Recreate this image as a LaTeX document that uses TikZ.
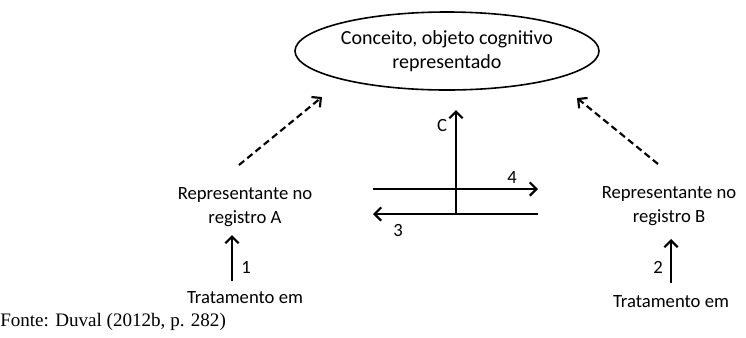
\documentclass[tikz,border=0pt]{standalone}
\usepackage{fontspec}
\setmainfont{Carlito}
\newfontfamily\fontefont{Liberation Serif}
\usetikzlibrary{arrows.meta,shapes.geometric}

\begin{document}
\begin{tikzpicture}[x=0.75pt,y=-0.75pt,
        txt/.style={align=center,inner sep=0pt,font=\fontsize{14}{18.5}\selectfont},
        seta/.style={line width=1.6pt,-{Straight Barb[length=5pt,width=10pt]}},
        tracejada/.style={seta,dash pattern=on 5pt off 3pt}]
        \useasboundingbox (0,0) rectangle (746,337);

        \node[draw,ellipse,line width=1.2pt,minimum width=228pt,minimum height=58.5pt,txt,
              font=\fontsize{15}{18}\selectfont] (conceito) at (447,51)
            {Conceito, objeto cognitivo\\representado};

        \node[txt] (repA) at (245,207) {Representante no\\registro A};
        \node[txt] (repB) at (669,206) {Representante no\\registro B};
        \node[txt] (tratA) at (245,298) {Tratamento em};
        \node[txt] (tratB) at (671,302) {Tratamento em};

        % setas tracejadas para o conceito
        \coordinate (dA1) at (239,165);
        \coordinate (dA2) at (322,97);
        \coordinate (dB1) at (658,164);
        \coordinate (dB2) at (577,98);
        \draw[tracejada] (dA1) -- (dA2);
        \draw[tracejada] (dB1) -- (dB2);

        % tratamentos
        \coordinate (t1a) at (232,281);
        \coordinate (t1b) at (232,235);
        \coordinate (t2a) at (671,283);
        \coordinate (t2b) at (671,239);
        \draw[seta] (t1a) -- (t1b);
        \draw[seta] (t2a) -- (t2b);
        \node[txt] (n1) at (246,267) {1};
        \node[txt] (n2) at (658,267) {2};

        % conversoes
        \coordinate (cBase) at (456,214);
        \coordinate (cTopo) at (456,110);
        \coordinate (q4a) at (373,189);
        \coordinate (q4b) at (538,189);
        \coordinate (q3a) at (538,214);
        \coordinate (q3b) at (373,214);
        \draw[seta] (cBase) -- (cTopo);
        \draw[seta] (q4a) -- (q4b);
        \draw[seta] (q3a) -- (q3b);
        \node[txt] (nC) at (442,125) {C};
        \node[txt] (n4) at (512,177) {4};
        \node[txt] (n3) at (398,230) {3};

        \node[anchor=west,inner sep=0pt,font=\fontefont\fontsize{14.3}{17}\selectfont] (fonte) at (0,322)
            {Fonte: Duval (2012b, p. 282)};
\end{tikzpicture}
\end{document}
